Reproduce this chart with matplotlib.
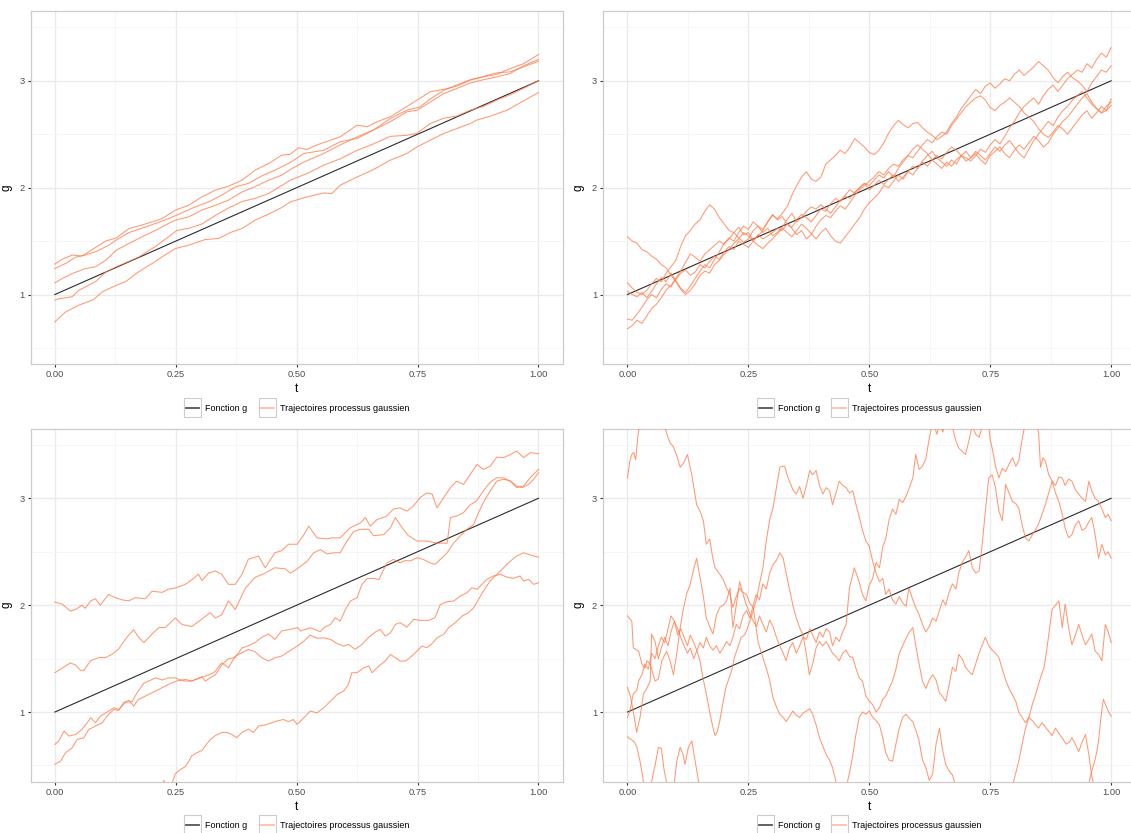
import numpy as np
import matplotlib
matplotlib.use("Agg")
import matplotlib.pyplot as plt
from matplotlib.legend_handler import HandlerBase
from matplotlib.patches import Rectangle
from matplotlib.lines import Line2D

plt.rcParams['font.family'] = ['Liberation Sans', 'DejaVu Sans']

# fonction g (droite de 1 a 3)
g_t = [0.0, 1.0]
g_vals = [1.0, 3.0]

# ---- panel haut gauche : trajectoires lisses (t, g) ----
tl_1 = [(0, 1.284), (0.015, 1.33), (0.036, 1.37), (0.056, 1.36), (0.084, 1.44), (0.105, 1.50), (0.127, 1.53),
        (0.153, 1.617), (0.18, 1.65), (0.2215, 1.71), (0.249, 1.789), (0.277, 1.836), (0.304, 1.914),
        (0.332, 1.977), (0.359, 2.014), (0.387, 2.07), (0.414, 2.164), (0.442, 2.226), (0.469, 2.304),
        (0.487, 2.313), (0.504, 2.375), (0.5215, 2.357), (0.542, 2.40), (0.57, 2.445), (0.59, 2.475),
        (0.625, 2.585), (0.646, 2.57), (0.666, 2.616), (0.6935, 2.663), (0.721, 2.74), (0.749, 2.82),
        (0.776, 2.897), (0.804, 2.92), (0.831, 2.95), (0.859, 3.006), (0.886, 3.037), (0.914, 3.06),
        (0.942, 3.115), (0.969, 3.16), (1.0, 3.246)]
tl_2 = [(0, 1.243), (0.022, 1.29), (0.043, 1.35), (0.063, 1.37), (0.084, 1.40), (0.111, 1.46), (0.127, 1.51),
        (0.153, 1.58), (0.18, 1.62), (0.208, 1.665), (0.235, 1.71), (0.263, 1.765), (0.29, 1.82), (0.318, 1.867),
        (0.345, 1.93), (0.373, 2.007), (0.40, 2.04), (0.428, 2.11), (0.455, 2.164), (0.483, 2.226), (0.502, 2.28),
        (0.515, 2.32), (0.556, 2.35), (0.59, 2.43), (0.625, 2.46), (0.659, 2.54), (0.6935, 2.617), (0.728, 2.71),
        (0.749, 2.725), (0.776, 2.80), (0.804, 2.88), (0.831, 2.928), (0.859, 2.98), (0.886, 3.01),
        (0.914, 3.037), (0.942, 3.07), (0.969, 3.14), (1.0, 3.2)]
tl_3 = [(0, 1.109), (0.015, 1.15), (0.036, 1.196), (0.063, 1.243), (0.084, 1.26), (0.105, 1.32), (0.127, 1.415),
        (0.153, 1.477), (0.18, 1.54), (0.208, 1.60), (0.235, 1.665), (0.249, 1.696), (0.277, 1.727), (0.304, 1.79),
        (0.332, 1.836), (0.359, 1.883), (0.387, 1.96), (0.414, 2.01), (0.442, 2.07), (0.469, 2.117), (0.487, 2.17),
        (0.515, 2.24), (0.556, 2.32), (0.59, 2.40), (0.625, 2.475), (0.659, 2.54), (0.6935, 2.647), (0.728, 2.725),
        (0.755, 2.756), (0.776, 2.83), (0.804, 2.91), (0.831, 2.96), (0.859, 3.01), (0.886, 3.04), (0.914, 3.075),
        (0.942, 3.084), (0.969, 3.13), (1.0, 3.184)]
tl_4 = [(0, 0.947), (0.008, 0.96), (0.036, 0.98), (0.0495, 1.04), (0.084, 1.12), (0.105, 1.21), (0.127, 1.26),
        (0.153, 1.31), (0.173, 1.35), (0.208, 1.45), (0.235, 1.54), (0.2525, 1.60), (0.277, 1.62), (0.304, 1.66),
        (0.332, 1.74), (0.359, 1.81), (0.387, 1.87), (0.414, 1.90), (0.442, 1.945), (0.469, 2.02), (0.487, 2.07),
        (0.52, 2.13), (0.556, 2.21), (0.59, 2.27), (0.625, 2.35), (0.659, 2.41), (0.6935, 2.48), (0.728, 2.49),
        (0.749, 2.51), (0.776, 2.60), (0.804, 2.65), (0.831, 2.67), (0.859, 2.725), (0.886, 2.76), (0.914, 2.82),
        (0.942, 2.87), (0.969, 2.93), (1.0, 3.0)]
tl_5 = [(0, 0.744), (0.022, 0.837), (0.0495, 0.90), (0.080, 0.953), (0.098, 1.025), (0.127, 1.087), (0.146, 1.12),
        (0.173, 1.212), (0.201, 1.29), (0.2215, 1.352), (0.249, 1.43), (0.277, 1.462), (0.311, 1.515),
        (0.338, 1.524), (0.366, 1.586), (0.387, 1.618), (0.414, 1.696), (0.442, 1.752), (0.469, 1.814),
        (0.487, 1.867), (0.5215, 1.914), (0.556, 1.951), (0.573, 1.945), (0.590, 2.023), (0.625, 2.10),
        (0.659, 2.17), (0.6935, 2.257), (0.728, 2.32), (0.749, 2.382), (0.776, 2.444), (0.804, 2.507),
        (0.831, 2.553), (0.859, 2.60), (0.872, 2.632), (0.900, 2.669), (0.935, 2.725), (0.969, 2.812), (1.0, 2.89)]

# ---- panel haut droit : valeurs sur la grille t = 0, 0.01, ..., 1 ----
tr_a = [1.03, 1.00, 0.98, 1.02, 0.97, 1.03, 1.10, 1.16, 1.12, 1.20, 1.13,
        1.06, 1.02, 1.08, 1.15, 1.22, 1.28, 1.25, 1.33, 1.40, 1.48,
        1.52, 1.58, 1.53, 1.49, 1.52, 1.60, 1.64, 1.61, 1.68, 1.74,
        1.71, 1.76, 1.82, 1.93, 2.02, 2.10, 2.15, 2.08, 2.06, 2.10,
        2.22, 2.26, 2.30, 2.35, 2.32, 2.38, 2.46, 2.42, 2.38, 2.33,
        2.31, 2.35, 2.42, 2.51, 2.58, 2.63, 2.59, 2.56, 2.60, 2.61,
        2.56, 2.52, 2.49, 2.45, 2.48, 2.52, 2.60, 2.66, 2.74, 2.80,
        2.86, 2.92, 2.88, 2.95, 2.98, 2.93, 2.97, 3.02, 3.00, 3.06,
        3.10, 3.05, 3.09, 3.13, 3.18, 3.14, 3.10, 3.03, 2.98, 3.04,
        3.08, 3.03, 3.00, 2.96, 2.90, 2.98, 3.04, 3.10, 3.08, 3.14]
tr_b = [0.68, 0.71, 0.76, 0.73, 0.80, 0.87, 0.91, 0.97, 1.04, 1.09, 1.14,
        1.20, 1.23, 1.18, 1.21, 1.28, 1.25, 1.31, 1.36, 1.33, 1.40,
        1.45, 1.42, 1.50, 1.47, 1.44, 1.50, 1.56, 1.52, 1.55, 1.58,
        1.62, 1.60, 1.66, 1.63, 1.70, 1.75, 1.72, 1.68, 1.74, 1.80,
        1.78, 1.85, 1.90, 1.87, 1.93, 1.98, 1.95, 2.00, 2.04, 1.98,
        2.02, 2.07, 2.03, 2.08, 2.12, 2.06, 2.10, 2.15, 2.12, 2.18,
        2.24, 2.20, 2.26, 2.30, 2.27, 2.33, 2.38, 2.35, 2.30, 2.28,
        2.25, 2.30, 2.36, 2.33, 2.40, 2.45, 2.41, 2.48, 2.56, 2.62,
        2.70, 2.76, 2.80, 2.84, 2.78, 2.86, 2.92, 2.96, 2.90, 2.96,
        3.02, 3.06, 3.10, 3.08, 3.16, 3.12, 3.20, 3.26, 3.22, 3.31]
tr_c = [1.54, 1.50, 1.48, 1.42, 1.40, 1.36, 1.33, 1.28, 1.25, 1.18, 1.12,
        1.05, 1.00, 1.04, 1.10, 1.18, 1.22, 1.20, 1.28, 1.32, 1.38,
        1.42, 1.48, 1.52, 1.58, 1.55, 1.50, 1.46, 1.43, 1.48, 1.52,
        1.57, 1.62, 1.58, 1.54, 1.60, 1.66, 1.62, 1.57, 1.52, 1.58,
        1.62, 1.55, 1.50, 1.48, 1.54, 1.60, 1.66, 1.72, 1.80, 1.86,
        1.90, 1.95, 2.02, 2.00, 2.06, 2.12, 2.08, 2.15, 2.20, 2.18,
        2.25, 2.30, 2.34, 2.28, 2.24, 2.20, 2.26, 2.22, 2.30, 2.34,
        2.28, 2.32, 2.26, 2.22, 2.30, 2.34, 2.38, 2.32, 2.28, 2.35,
        2.40, 2.36, 2.42, 2.48, 2.44, 2.38, 2.42, 2.50, 2.56, 2.62,
        2.66, 2.72, 2.78, 2.84, 2.88, 2.80, 2.74, 2.70, 2.72, 2.77]
tr_d = [1.11, 1.06, 1.02, 1.00, 1.04, 1.10, 1.15, 1.12, 1.20, 1.26, 1.32,
        1.45, 1.55, 1.60, 1.66, 1.70, 1.78, 1.84, 1.80, 1.72, 1.66,
        1.60, 1.58, 1.63, 1.56, 1.58, 1.51, 1.55, 1.60, 1.68, 1.75,
        1.70, 1.73, 1.66, 1.62, 1.56, 1.60, 1.52, 1.56, 1.64, 1.70,
        1.74, 1.72, 1.78, 1.83, 1.80, 1.86, 1.93, 1.98, 2.02, 2.06,
        2.10, 2.15, 2.12, 2.18, 2.22, 2.20, 2.26, 2.30, 2.28, 2.34,
        2.40, 2.45, 2.42, 2.48, 2.52, 2.50, 2.58, 2.64, 2.70, 2.76,
        2.80, 2.84, 2.86, 2.82, 2.75, 2.72, 2.77, 2.80, 2.84, 2.80,
        2.76, 2.70, 2.66, 2.62, 2.55, 2.50, 2.47, 2.52, 2.58, 2.55,
        2.50, 2.56, 2.62, 2.68, 2.72, 2.65, 2.70, 2.76, 2.72, 2.83]
tr_e = [0.77, 0.76, 0.82, 0.88, 0.95, 1.00, 0.97, 1.05, 1.10, 1.07, 1.15,
        1.22, 1.30, 1.38, 1.35, 1.31, 1.38, 1.42, 1.46, 1.50, 1.47,
        1.53, 1.50, 1.58, 1.64, 1.61, 1.68, 1.64, 1.58, 1.62, 1.55,
        1.58, 1.63, 1.70, 1.76, 1.68, 1.72, 1.78, 1.82, 1.80, 1.84,
        1.80, 1.76, 1.82, 1.88, 1.92, 1.90, 1.96, 2.00, 2.04, 2.02,
        2.07, 2.12, 2.09, 2.15, 2.10, 2.18, 2.24, 2.30, 2.36, 2.40,
        2.36, 2.32, 2.26, 2.22, 2.18, 2.24, 2.20, 2.26, 2.30, 2.25,
        2.28, 2.34, 2.30, 2.26, 2.32, 2.38, 2.34, 2.40, 2.44, 2.38,
        2.32, 2.28, 2.36, 2.44, 2.50, 2.56, 2.62, 2.58, 2.66, 2.72,
        2.76, 2.82, 2.86, 2.90, 2.84, 2.78, 2.74, 2.70, 2.76, 2.80]

# ---- panel bas gauche (t, g) ----
bl_1 = [(0, 2.03), (0.015, 2.01), (0.032, 1.945), (0.043, 1.96), (0.056, 2.0), (0.063, 1.97), (0.074, 2.04),
        (0.084, 2.06), (0.094, 2.0), (0.111, 2.10), (0.125, 2.07), (0.139, 2.05), (0.153, 2.04), (0.166, 2.07),
        (0.187, 2.06), (0.201, 2.13), (0.222, 2.12), (0.235, 2.15), (0.249, 2.16), (0.27, 2.195), (0.284, 2.24),
        (0.297, 2.29), (0.304, 2.23), (0.318, 2.30), (0.332, 2.32), (0.345, 2.29), (0.359, 2.195), (0.373, 2.195),
        (0.387, 2.29), (0.40, 2.43), (0.421, 2.46), (0.435, 2.35), (0.455, 2.49), (0.469, 2.51), (0.483, 2.57),
        (0.501, 2.57), (0.515, 2.66), (0.525, 2.74), (0.542, 2.63), (0.563, 2.62), (0.573, 2.63), (0.59, 2.63),
        (0.611, 2.725), (0.632, 2.77), (0.642, 2.82), (0.652, 2.74), (0.666, 2.80), (0.687, 2.835), (0.70, 2.90),
        (0.714, 2.91), (0.728, 2.88), (0.742, 2.93), (0.755, 3.006), (0.769, 3.05), (0.78, 3.04), (0.79, 2.91),
        (0.804, 3.006), (0.818, 3.10), (0.831, 3.16), (0.845, 3.13), (0.859, 3.224), (0.873, 3.318), (0.886, 3.27),
        (0.90, 3.30), (0.914, 3.386), (0.928, 3.38), (0.942, 3.41), (0.955, 3.443), (0.969, 3.38), (0.983, 3.427),
        (1.0, 3.418)]
bl_2 = [(0, 1.368), (0.015, 1.41), (0.032, 1.46), (0.043, 1.44), (0.053, 1.39), (0.06, 1.39), (0.074, 1.48),
        (0.091, 1.51), (0.105, 1.51), (0.118, 1.54), (0.132, 1.59), (0.149, 1.70), (0.163, 1.77), (0.173, 1.70),
        (0.184, 1.65), (0.201, 1.73), (0.215, 1.79), (0.228, 1.79), (0.249, 1.88), (0.263, 1.82), (0.283, 1.80),
        (0.304, 1.87), (0.321, 1.93), (0.332, 1.88), (0.345, 1.91), (0.359, 2.04), (0.373, 1.96), (0.394, 2.16),
        (0.414, 2.26), (0.435, 2.30), (0.455, 2.35), (0.476, 2.34), (0.487, 2.30), (0.501, 2.34), (0.5215, 2.41),
        (0.535, 2.49), (0.549, 2.52), (0.563, 2.48), (0.576, 2.49), (0.59, 2.49), (0.604, 2.60), (0.618, 2.69),
        (0.632, 2.71), (0.649, 2.71), (0.659, 2.65), (0.68, 2.66), (0.694, 2.725), (0.704, 2.82), (0.718, 2.725),
        (0.731, 2.65), (0.749, 2.60), (0.769, 2.60), (0.79, 2.58), (0.811, 2.58), (0.818, 2.82), (0.831, 2.835),
        (0.845, 2.866), (0.859, 2.94), (0.872, 2.975), (0.886, 3.07), (0.90, 3.15), (0.914, 3.193), (0.928, 3.19),
        (0.942, 3.16), (0.955, 3.10), (0.969, 3.115), (0.983, 3.193), (1.0, 3.27)]
bl_3 = [(0, 0.697), (0.008, 0.728), (0.019, 0.822), (0.029, 0.775), (0.043, 0.79), (0.056, 0.837), (0.067, 0.90),
        (0.074, 0.947), (0.084, 0.90), (0.094, 0.962), (0.108, 1.0), (0.122, 1.04), (0.132, 1.025), (0.146, 1.09),
        (0.160, 1.10), (0.170, 1.18), (0.184, 1.27), (0.194, 1.29), (0.208, 1.32), (0.222, 1.30), (0.235, 1.32),
        (0.249, 1.32), (0.259, 1.30), (0.270, 1.29), (0.283, 1.29), (0.294, 1.31), (0.304, 1.33), (0.311, 1.29),
        (0.321, 1.32), (0.332, 1.35), (0.345, 1.44), (0.359, 1.50), (0.373, 1.51), (0.387, 1.60), (0.400, 1.62),
        (0.414, 1.65), (0.428, 1.70), (0.442, 1.73), (0.455, 1.68), (0.469, 1.76), (0.483, 1.77), (0.502, 1.79),
        (0.508, 1.758), (0.528, 1.789), (0.549, 1.752), (0.556, 1.789), (0.570, 1.82), (0.580, 1.883),
        (0.590, 1.851), (0.601, 1.96), (0.611, 2.039), (0.625, 2.07), (0.635, 2.195), (0.646, 2.25), (0.659, 2.25),
        (0.670, 2.24), (0.680, 2.335), (0.687, 2.396), (0.700, 2.428), (0.714, 2.396), (0.725, 2.418),
        (0.735, 2.413), (0.749, 2.444), (0.762, 2.428), (0.776, 2.396), (0.786, 2.382), (0.797, 2.428),
        (0.811, 2.49), (0.825, 2.584), (0.838, 2.647), (0.852, 2.71), (0.866, 2.756), (0.876, 2.866), (0.886, 2.96),
        (0.900, 3.068), (0.914, 3.162), (0.928, 3.178), (0.942, 3.162), (0.955, 3.115), (0.966, 3.099),
        (0.980, 3.131), (0.990, 3.178), (1.0, 3.24)]
bl_4 = [(0, 0.51), (0.012, 0.541), (0.022, 0.619), (0.036, 0.666), (0.046, 0.744), (0.060, 0.759), (0.070, 0.837),
        (0.084, 0.868), (0.098, 0.90), (0.111, 0.978), (0.122, 1.025), (0.132, 1.015), (0.142, 1.087), (0.153, 1.11),
        (0.163, 1.056), (0.173, 1.118), (0.187, 1.149), (0.201, 1.18), (0.215, 1.212), (0.228, 1.243),
        (0.242, 1.274), (0.256, 1.296), (0.270, 1.305), (0.283, 1.29), (0.297, 1.315), (0.311, 1.337),
        (0.325, 1.36), (0.332, 1.383), (0.345, 1.461), (0.359, 1.415), (0.373, 1.524), (0.387, 1.555),
        (0.400, 1.586), (0.414, 1.564), (0.428, 1.508), (0.442, 1.477), (0.455, 1.508), (0.469, 1.524),
        (0.490, 1.586), (0.502, 1.62), (0.515, 1.664), (0.528, 1.72), (0.542, 1.69), (0.556, 1.695), (0.570, 1.68),
        (0.584, 1.64), (0.597, 1.617), (0.607, 1.633), (0.621, 1.586), (0.635, 1.633), (0.649, 1.70), (0.663, 1.75),
        (0.673, 1.773), (0.683, 1.711), (0.694, 1.742), (0.704, 1.82), (0.714, 1.836), (0.728, 1.795),
        (0.742, 1.867), (0.755, 1.858), (0.773, 1.858), (0.786, 1.883), (0.797, 2.007), (0.811, 2.032),
        (0.825, 2.039), (0.838, 2.085), (0.852, 2.117), (0.862, 2.163), (0.873, 2.148), (0.883, 2.195),
        (0.893, 2.241), (0.907, 2.273), (0.921, 2.288), (0.935, 2.263), (0.948, 2.25), (0.962, 2.273),
        (0.969, 2.226), (0.980, 2.241), (0.990, 2.195), (1.0, 2.21)]
bl_5 = [(0.20, 0.20), (0.222, 0.30), (0.225, 0.36), (0.229, 0.33), (0.235, 0.30), (0.242, 0.33), (0.249, 0.42),
        (0.256, 0.45), (0.259, 0.46), (0.270, 0.49), (0.277, 0.54), (0.283, 0.59), (0.294, 0.62), (0.304, 0.64),
        (0.314, 0.70), (0.321, 0.74), (0.332, 0.78), (0.345, 0.81), (0.356, 0.81), (0.366, 0.79), (0.376, 0.76),
        (0.387, 0.81), (0.400, 0.84), (0.411, 0.81), (0.421, 0.87), (0.435, 0.88), (0.449, 0.90), (0.462, 0.92),
        (0.473, 0.93), (0.483, 0.91), (0.493, 0.93), (0.501, 0.884), (0.515, 0.947), (0.528, 1.009), (0.542, 0.993),
        (0.556, 1.04), (0.570, 1.103), (0.584, 1.165), (0.597, 1.196), (0.607, 1.259), (0.614, 1.368),
        (0.625, 1.368), (0.639, 1.415), (0.649, 1.43), (0.656, 1.368), (0.670, 1.43), (0.683, 1.477),
        (0.694, 1.539), (0.704, 1.508), (0.714, 1.477), (0.725, 1.477), (0.738, 1.524), (0.749, 1.571),
        (0.759, 1.617), (0.769, 1.602), (0.780, 1.64), (0.790, 1.695), (0.804, 1.727), (0.814, 1.789),
        (0.828, 1.836), (0.842, 1.898), (0.855, 1.929), (0.866, 1.976), (0.876, 2.054), (0.886, 2.132),
        (0.900, 2.226), (0.914, 2.288), (0.928, 2.351), (0.942, 2.413), (0.955, 2.46), (0.969, 2.49),
        (0.980, 2.475), (0.990, 2.46), (1.0, 2.45)]

# ---- panel bas droit (t, g) : trajectoires tres bruitees, sortent du cadre ----
br_a = [(0, 3.19), (0.005, 3.35), (0.009, 3.41), (0.013, 3.43), (0.017, 3.36), (0.022, 3.6), (0.03, 3.78),
        (0.04, 3.85), (0.05, 3.92), (0.06, 3.88), (0.07, 3.8), (0.078, 3.66), (0.083, 3.58), (0.088, 3.52),
        (0.095, 3.48), (0.102, 3.4), (0.109, 3.29), (0.116, 3.33), (0.124, 3.41), (0.133, 3.22), (0.143, 2.94),
        (0.15, 2.88), (0.157, 2.79), (0.163, 2.57), (0.17, 2.62), (0.176, 2.45), (0.181, 2.35), (0.191, 2.29),
        (0.198, 2.24), (0.205, 2.16), (0.212, 2.1), (0.218, 1.98), (0.225, 2.08), (0.232, 2.16), (0.239, 2.12),
        (0.246, 2.1), (0.253, 2.02), (0.26, 1.98), (0.265, 1.82), (0.27, 1.66), (0.275, 1.58), (0.28, 1.51),
        (0.287, 1.41), (0.294, 1.3), (0.301, 1.13), (0.308, 1.05), (0.315, 0.98), (0.322, 0.95), (0.328, 0.91),
        (0.335, 0.96), (0.342, 1.01), (0.349, 0.97), (0.356, 0.95), (0.363, 0.99), (0.37, 1.01), (0.377, 1.03),
        (0.383, 0.98), (0.39, 0.88), (0.397, 0.76), (0.404, 0.68), (0.411, 0.6), (0.418, 0.55), (0.424, 0.48),
        (0.431, 0.35), (0.44, 0.2), (0.46, 0.05), (0.5, -0.1), (0.55, -0.2), (0.6, -0.1), (0.65, 0.0), (0.7, -0.2),
        (0.75, -0.3), (0.8, -0.1), (0.85, 0.0), (0.9, 0.1), (0.93, 0.2), (0.945, 0.25), (0.955, 0.35), (0.96, 0.45),
        (0.966, 0.54), (0.97, 0.62), (0.974, 0.73), (0.979, 0.95), (0.984, 1.12), (0.99, 1.05), (0.995, 1.0),
        (1.0, 0.96)]
br_b = [(0, 1.9), (0.009, 1.85), (0.012, 1.6), (0.023, 1.57), (0.03, 1.45), (0.036, 1.41), (0.04, 1.48),
        (0.047, 1.45), (0.057, 1.29), (0.064, 1.31), (0.071, 1.48), (0.081, 1.57), (0.088, 1.48), (0.095, 1.35),
        (0.102, 1.55), (0.109, 1.79), (0.115, 1.95), (0.122, 2.1), (0.13, 2.2), (0.136, 2.32), (0.143, 2.44),
        (0.15, 2.26), (0.157, 2.08), (0.163, 1.88), (0.17, 1.8), (0.177, 1.73), (0.184, 1.91), (0.191, 1.98),
        (0.198, 2.0), (0.205, 2.04), (0.212, 2.16), (0.218, 1.79), (0.225, 2.0), (0.232, 2.22), (0.239, 2.1),
        (0.246, 2.0), (0.253, 1.92), (0.26, 1.85), (0.267, 1.8), (0.273, 1.9), (0.28, 1.82), (0.287, 1.75),
        (0.294, 1.86), (0.301, 1.8), (0.308, 1.7), (0.315, 1.62), (0.322, 1.55), (0.328, 1.48), (0.335, 1.6),
        (0.342, 1.65), (0.349, 1.55), (0.356, 1.62), (0.363, 1.7), (0.37, 1.68), (0.377, 1.78), (0.383, 1.72),
        (0.39, 1.65), (0.397, 1.75), (0.404, 1.7), (0.411, 1.78), (0.418, 1.75), (0.424, 1.62), (0.431, 1.7),
        (0.438, 1.66), (0.445, 1.75), (0.452, 1.82), (0.459, 2.16), (0.469, 2.35), (0.479, 2.22), (0.486, 2.1),
        (0.493, 2.04), (0.5, 2.19), (0.507, 2.25), (0.514, 2.4), (0.521, 2.35), (0.528, 2.55), (0.534, 2.62),
        (0.541, 2.8), (0.548, 2.9), (0.555, 2.85), (0.562, 2.99), (0.569, 2.96), (0.576, 3.02), (0.583, 3.1),
        (0.59, 3.19), (0.596, 3.41), (0.603, 3.27), (0.61, 3.3), (0.617, 3.37), (0.624, 3.56), (0.631, 3.72),
        (0.64, 3.6), (0.645, 3.7), (0.652, 3.62), (0.66, 3.75), (0.672, 3.66), (0.679, 3.54), (0.685, 3.47),
        (0.699, 3.41), (0.706, 3.54), (0.713, 3.68), (0.72, 3.6), (0.727, 3.57), (0.735, 3.7), (0.745, 3.75),
        (0.75, 3.55), (0.754, 3.47), (0.761, 3.3), (0.768, 3.19), (0.775, 3.28), (0.782, 3.25), (0.789, 3.32),
        (0.796, 3.38), (0.803, 3.3), (0.809, 3.35), (0.816, 3.55), (0.823, 3.72), (0.835, 3.8), (0.845, 3.7),
        (0.85, 3.62), (0.854, 3.29), (0.859, 3.38), (0.864, 3.35), (0.871, 3.22), (0.878, 3.16), (0.885, 3.05),
        (0.892, 2.97), (0.899, 2.85), (0.905, 2.72), (0.912, 2.63), (0.919, 2.66), (0.926, 2.75), (0.933, 2.79),
        (0.94, 2.7), (0.947, 2.72), (0.954, 2.78), (0.96, 2.82), (0.967, 2.66), (0.974, 2.44), (0.981, 2.57),
        (0.988, 2.47), (0.994, 2.5), (1.0, 2.44)]
br_c = [(0, 1.23), (0.006, 1.15), (0.012, 1.01), (0.019, 0.81), (0.026, 0.95), (0.033, 1.17), (0.04, 1.22),
        (0.047, 1.29), (0.05, 1.73), (0.057, 1.66), (0.064, 1.5), (0.07, 1.6), (0.077, 1.7), (0.084, 1.62),
        (0.09, 1.75), (0.097, 1.85), (0.104, 1.78), (0.11, 1.7), (0.117, 1.62), (0.124, 1.55), (0.13, 1.6),
        (0.137, 1.5), (0.144, 1.58), (0.15, 1.65), (0.157, 1.6), (0.163, 1.7), (0.17, 1.62), (0.177, 1.58),
        (0.184, 1.62), (0.191, 1.55), (0.198, 1.6), (0.205, 1.66), (0.212, 1.62), (0.218, 1.7), (0.225, 1.82),
        (0.232, 1.78), (0.239, 1.9), (0.246, 1.95), (0.253, 1.88), (0.26, 2.0), (0.266, 2.1), (0.273, 2.05),
        (0.28, 2.2), (0.287, 2.15), (0.294, 2.3), (0.301, 2.38), (0.308, 2.42), (0.315, 2.49), (0.322, 2.44),
        (0.328, 2.3), (0.335, 2.15), (0.342, 2.0), (0.349, 1.88), (0.356, 1.79), (0.363, 1.72), (0.37, 1.54),
        (0.376, 1.35), (0.383, 1.45), (0.39, 1.6), (0.397, 1.66), (0.404, 1.62), (0.411, 1.66), (0.418, 1.6),
        (0.424, 1.55), (0.431, 1.52), (0.438, 1.48), (0.445, 1.55), (0.452, 1.58), (0.459, 1.52), (0.466, 1.51),
        (0.473, 1.4), (0.479, 1.32), (0.486, 1.29), (0.493, 1.15), (0.5, 1.1), (0.507, 1.07), (0.514, 1.0),
        (0.521, 1.04), (0.528, 1.12), (0.534, 1.15), (0.541, 1.22), (0.548, 1.29), (0.555, 1.4), (0.562, 1.55),
        (0.569, 1.62), (0.576, 1.69), (0.583, 1.75), (0.59, 1.79), (0.597, 1.6), (0.603, 1.45), (0.61, 1.29),
        (0.617, 1.22), (0.624, 1.3), (0.631, 1.35), (0.638, 1.3), (0.645, 1.18), (0.651, 1.15), (0.658, 1.1),
        (0.665, 1.25), (0.672, 1.42), (0.679, 1.38), (0.685, 1.54), (0.692, 1.5), (0.699, 1.42), (0.706, 1.38),
        (0.713, 1.35), (0.72, 1.45), (0.727, 1.55), (0.733, 1.62), (0.74, 1.7), (0.747, 1.62), (0.754, 1.58),
        (0.761, 1.55), (0.768, 1.51), (0.775, 1.4), (0.782, 1.3), (0.789, 1.22), (0.796, 1.16), (0.803, 1.1),
        (0.809, 1.0), (0.816, 0.95), (0.823, 0.9), (0.83, 0.95), (0.837, 0.92), (0.844, 0.88), (0.85, 0.85),
        (0.857, 0.9), (0.864, 0.86), (0.871, 0.82), (0.878, 0.78), (0.885, 0.85), (0.892, 0.8), (0.9, 0.75),
        (0.907, 0.7), (0.914, 0.72), (0.919, 0.76), (0.926, 0.7), (0.933, 0.63), (0.94, 0.72), (0.947, 0.79),
        (0.954, 0.6), (0.96, 0.4), (0.967, 0.25), (0.98, 0.15), (1.0, 0.1)]
br_f = [(0, 0.95), (0.005, 1.01), (0.012, 1.17), (0.019, 1.2), (0.023, 1.29), (0.03, 1.35), (0.036, 1.45),
        (0.043, 1.4), (0.05, 1.55), (0.057, 1.5), (0.064, 1.62), (0.07, 1.7), (0.077, 1.65), (0.084, 1.78),
        (0.09, 1.9), (0.097, 1.85), (0.104, 1.72), (0.11, 1.78), (0.117, 1.7), (0.124, 1.62), (0.13, 1.72),
        (0.137, 1.65), (0.143, 1.58), (0.15, 1.48), (0.157, 1.3), (0.163, 1.17), (0.17, 1.0), (0.177, 0.85),
        (0.181, 0.78), (0.186, 0.82), (0.191, 0.92), (0.198, 1.1), (0.203, 1.22), (0.208, 1.29), (0.215, 1.38),
        (0.221, 1.51), (0.228, 1.6), (0.235, 1.7), (0.242, 1.72), (0.246, 1.76), (0.253, 1.85), (0.26, 1.95),
        (0.266, 2.04), (0.273, 2.2), (0.28, 2.35), (0.287, 2.6), (0.294, 2.8), (0.301, 2.91), (0.308, 3.1),
        (0.315, 3.29), (0.32, 3.3), (0.325, 3.3), (0.33, 3.22), (0.335, 3.16), (0.342, 3.08), (0.349, 3.04),
        (0.356, 3.11), (0.363, 3.0), (0.37, 3.12), (0.377, 3.26), (0.383, 3.22), (0.39, 3.26), (0.397, 3.12),
        (0.404, 3.04), (0.411, 3.1), (0.418, 3.07), (0.424, 2.94), (0.431, 3.05), (0.438, 3.16), (0.445, 3.12),
        (0.452, 3.1), (0.459, 3.05), (0.466, 3.07), (0.472, 2.95), (0.479, 2.83), (0.486, 2.7), (0.493, 2.6),
        (0.5, 2.55), (0.507, 2.41), (0.514, 2.3), (0.521, 2.22), (0.528, 2.25), (0.534, 2.1), (0.541, 2.15),
        (0.548, 2.05), (0.555, 2.01), (0.562, 2.08), (0.569, 2.02), (0.576, 1.99), (0.582, 2.16), (0.59, 2.05),
        (0.596, 1.98), (0.603, 1.91), (0.61, 1.82), (0.617, 1.75), (0.624, 1.8), (0.631, 1.88), (0.638, 1.85),
        (0.645, 1.95), (0.652, 2.05), (0.658, 2.0), (0.665, 2.12), (0.672, 2.2), (0.679, 2.15), (0.685, 2.3),
        (0.692, 2.4), (0.699, 2.45), (0.706, 2.51), (0.713, 2.35), (0.72, 2.3), (0.727, 2.32), (0.733, 2.55),
        (0.74, 2.88), (0.747, 3.19), (0.754, 3.22), (0.761, 3.1), (0.768, 2.88), (0.775, 2.79), (0.782, 3.13),
        (0.789, 3.05), (0.796, 2.97), (0.803, 2.95), (0.809, 2.91), (0.816, 2.75), (0.823, 2.63), (0.83, 2.6),
        (0.837, 2.66), (0.843, 2.7), (0.85, 2.76), (0.857, 2.85), (0.864, 2.94), (0.871, 3.05), (0.878, 3.16),
        (0.885, 3.12), (0.892, 3.2), (0.899, 3.19), (0.905, 3.12), (0.912, 3.18), (0.919, 3.16), (0.926, 3.08),
        (0.933, 3.04), (0.94, 3.0), (0.947, 2.97), (0.954, 3.16), (0.96, 3.07), (0.967, 3.0), (0.974, 2.97),
        (0.981, 2.9), (0.988, 2.82), (0.994, 2.85), (1.0, 2.79)]
br_e = [(0, 0.77), (0.005, 0.75), (0.009, 0.74), (0.014, 0.72), (0.019, 0.68), (0.026, 0.54), (0.033, 0.35),
        (0.04, 0.25), (0.045, 0.28), (0.05, 0.35), (0.057, 0.5), (0.064, 0.67), (0.07, 0.66), (0.076, 0.45),
        (0.083, 0.3), (0.09, 0.25), (0.096, 0.3), (0.102, 0.54), (0.109, 0.67), (0.115, 0.6), (0.119, 0.51),
        (0.126, 0.67), (0.133, 0.73), (0.14, 0.54), (0.147, 0.35), (0.16, 0.15), (0.2, 0.0), (0.25, -0.2),
        (0.3, -0.1), (0.35, 0.0), (0.4, -0.1), (0.44, 0.1), (0.45, 0.25), (0.46, 0.45), (0.466, 0.6), (0.472, 0.78),
        (0.479, 0.95), (0.486, 1.0), (0.493, 0.98), (0.5, 1.01), (0.507, 0.95), (0.514, 0.92), (0.521, 0.88),
        (0.528, 0.76), (0.534, 0.62), (0.541, 0.55), (0.548, 0.54), (0.555, 0.7), (0.562, 0.85), (0.569, 0.95),
        (0.576, 0.98), (0.583, 0.94), (0.59, 0.91), (0.597, 0.82), (0.603, 0.73), (0.61, 0.55), (0.617, 0.48),
        (0.624, 0.36), (0.631, 0.42), (0.638, 0.7), (0.645, 0.85), (0.651, 0.66), (0.658, 0.51), (0.665, 0.45),
        (0.672, 0.41), (0.679, 0.3), (0.69, 0.15), (0.72, 0.0), (0.76, 0.05), (0.79, 0.2), (0.8, 0.38),
        (0.809, 0.54), (0.816, 0.7), (0.823, 0.85), (0.83, 0.95), (0.837, 1.07), (0.843, 1.15), (0.85, 1.26),
        (0.856, 1.35), (0.861, 1.41), (0.866, 1.55), (0.871, 1.72), (0.878, 1.96), (0.885, 2.0), (0.892, 2.04),
        (0.899, 1.79), (0.905, 2.01), (0.912, 1.79), (0.919, 1.63), (0.926, 1.72), (0.933, 1.82), (0.94, 1.72),
        (0.947, 1.63), (0.954, 1.68), (0.96, 1.73), (0.967, 1.57), (0.974, 1.54), (0.981, 1.48), (0.988, 1.82),
        (0.994, 1.75), (1.0, 1.65)]

ORANGE = '#FF7F50'
G_COLOR = '#2b2b2b'


class BoxedLine(HandlerBase):
    # cle de legende facon ggplot : carre gris avec le trait dedans
    def create_artists(self, legend, orig_handle, xdescent, ydescent, width, height, fontsize, trans):
        box = Rectangle((-xdescent, -ydescent - 4), width, height + 8, facecolor='white',
                        edgecolor='#cccccc', linewidth=0.8, transform=trans)
        y = -ydescent + height / 2
        ln = Line2D([-xdescent + 1.5, -xdescent + width - 1.5], [y, y], color=orig_handle.get_color(),
                    alpha=orig_handle.get_alpha(), linewidth=1.3, transform=trans)
        return [box, ln]


def as_xy(traj):
    if isinstance(traj[0], tuple):
        arr = np.array(traj)
        return arr[:, 0], arr[:, 1]
    return np.linspace(0, 1, len(traj)), np.array(traj)


def draw_panel(ax, trajs):
    ax.plot(g_t, g_vals, color=G_COLOR, linewidth=0.8, zorder=3)
    for tr in trajs:
        x, y = as_xy(tr)
        ax.plot(x, y, color=ORANGE, alpha=0.8, linewidth=0.75, zorder=4)

    ax.set_xlim(-0.05, 1.05)
    ax.set_ylim(0.35, 3.65)
    ax.set_xticks([0, 0.25, 0.5, 0.75, 1.0])
    ax.set_xticklabels(['0.00', '0.25', '0.50', '0.75', '1.00'])
    ax.set_yticks([1, 2, 3])
    ax.set_xticks([0.125, 0.375, 0.625, 0.875], minor=True)
    ax.set_yticks([0.5, 1.5, 2.5, 3.5], minor=True)
    ax.grid(which='major', color='#EBEBEB', linewidth=1.0)
    ax.grid(which='minor', color='#F5F5F5', linewidth=0.6)
    ax.set_axisbelow(True)
    for s in ax.spines.values():
        s.set_color('#CCCCCC')
        s.set_linewidth(0.9)
    ax.tick_params(which='major', length=2.5, width=0.8, color='#333333', labelsize=6.7,
                   labelcolor='#4D4D4D', pad=2)
    ax.tick_params(which='minor', length=0)
    ax.set_xlabel('t', fontsize=8.5, labelpad=3)
    ax.set_ylabel('g', fontsize=8.5, labelpad=5)

    h1 = Line2D([], [], color='#555555', alpha=1.0)
    h2 = Line2D([], [], color=ORANGE, alpha=0.5)
    ax.legend([h1, h2], ['Fonction g', 'Trajectoires processus gaussien'], loc='center',
              bbox_to_anchor=(0.5, -0.125), ncol=2, frameon=False, fontsize=6.5,
              handler_map={Line2D: BoxedLine()}, handlelength=1.9, handleheight=1.0,
              handletextpad=0.45, columnspacing=1.2)


fig = plt.figure(figsize=(11.31, 8.33), dpi=100)
w, h = 0.4704, 0.4234
ax_tl = fig.add_axes([0.0271, 0.5630, w, h])
ax_tr = fig.add_axes([0.5334, 0.5630, w, h])
ax_bl = fig.add_axes([0.0271, 0.0618, w, h])
ax_br = fig.add_axes([0.5334, 0.0618, w, h])

draw_panel(ax_tl, [tl_1, tl_2, tl_3, tl_4, tl_5])
draw_panel(ax_tr, [tr_a, tr_b, tr_c, tr_d, tr_e])
draw_panel(ax_bl, [bl_1, bl_2, bl_3, bl_4, bl_5])
draw_panel(ax_br, [br_a, br_b, br_c, br_f, br_e])

fig.savefig('out.png', dpi=100)
